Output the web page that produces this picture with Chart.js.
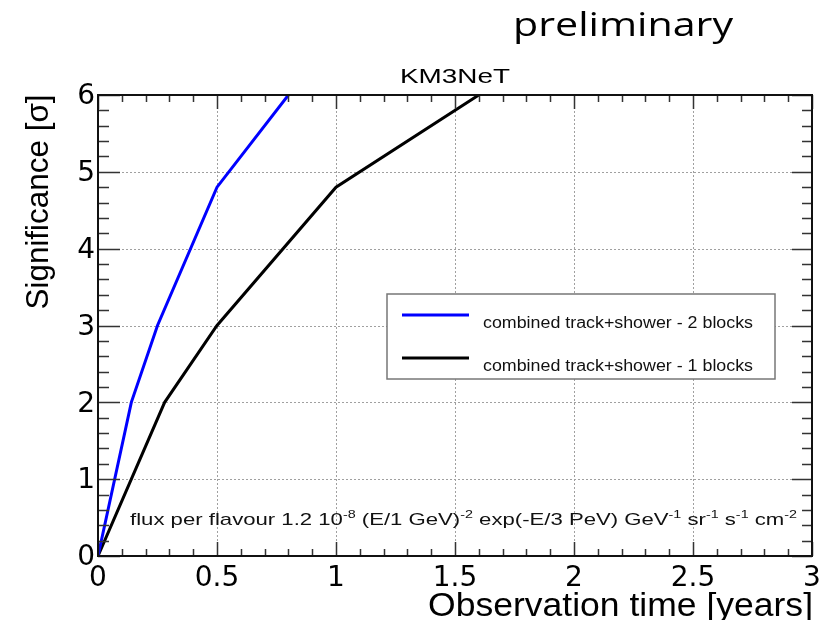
<!DOCTYPE html>
<html>
<head>
<meta charset="utf-8">
<script src="https://cdn.jsdelivr.net/npm/chart.js@4.4.1/dist/chart.umd.min.js"></script>
<style>
  html, body { margin: 0; padding: 0; background: #ffffff; }
  #wrap { width: 832px; height: 620px; }
</style>
</head>
<body>
<div id="wrap"><canvas id="c" width="832" height="620"></canvas></div>
<script>
// ---- data ----
const seriesLabels = ['combined track+shower - 2 blocks', 'combined track+shower - 1 blocks'];
const time2Blocks = [0, 0.14, 0.25, 0.5, 0.8];
const sig2Blocks  = [0, 2.0, 3.0, 4.8, 6.0];
const time1Block  = [0, 0.28, 0.5, 1.0, 1.6];
const sig1Block   = [0, 2.0, 3.0, 4.8, 6.0];
const xTickValues = [0, 0.5, 1, 1.5, 2, 2.5, 3];
const yTickValues = [0, 1, 2, 3, 4, 5, 6];
const chartTitle = 'KM3NeT';
const topNote = 'preliminary';
const xTitle = 'Observation time [years]';
const yTitle = 'Significance [\u03C3]';
const fluxNote = [
  ['flux per flavour 1.2 10', false], ['-8', true], [' (E/1 GeV)', false], ['-2', true],
  [' exp(-E/3 PeV) GeV', false], ['-1', true], [' sr', false], ['-1', true],
  [' s', false], ['-1', true], [' cm', false], ['-2', true]
];

const toPts = (xs, ys) => xs.map((x, i) => ({ x: x, y: ys[i] }));

function fitText(ctx, txt, x, y, font, align, width) {
  ctx.save();
  ctx.font = font;
  const w = ctx.measureText(txt).width;
  const sx = width ? width / w : 1;
  ctx.translate(x, y);
  ctx.scale(sx, 1);
  ctx.textAlign = align;
  ctx.textBaseline = 'alphabetic';
  ctx.fillText(txt, 0, 0);
  ctx.restore();
}

const rootStyle = {
  id: 'rootStyle',
  beforeDatasetsDraw(chart) {
    const ctx = chart.ctx, a = chart.chartArea;
    const xs = chart.scales.x, ys = chart.scales.y;
    ctx.save();
    ctx.strokeStyle = '#a0a0a0';
    ctx.lineWidth = 1;
    ctx.setLineDash([2, 2]);
    xTickValues.forEach(v => {
      if (v <= xs.min || v >= xs.max) return;
      const px = Math.round(xs.getPixelForValue(v)) + 0.5;
      ctx.beginPath(); ctx.moveTo(px, a.top); ctx.lineTo(px, a.bottom); ctx.stroke();
    });
    yTickValues.forEach(v => {
      if (v <= ys.min || v >= ys.max) return;
      const py = Math.round(ys.getPixelForValue(v)) + 0.5;
      ctx.beginPath(); ctx.moveTo(a.left, py); ctx.lineTo(a.right, py); ctx.stroke();
    });
    ctx.restore();
  },
  afterDatasetsDraw(chart) {
    const ctx = chart.ctx, a = chart.chartArea;
    const xs = chart.scales.x, ys = chart.scales.y;
    ctx.save();
    // ticks on all four sides (inward)
    ctx.strokeStyle = '#333';
    ctx.lineWidth = 1.5;
    for (let i = 0; i <= 30; i++) {
      const v = i / 10;
      const major = i % 5 === 0;
      const px = Math.round(xs.getPixelForValue(v)) + 0.5;
      const len = major ? 14 : 7;
      ctx.beginPath();
      ctx.moveTo(px, a.bottom); ctx.lineTo(px, a.bottom - len);
      ctx.moveTo(px, a.top); ctx.lineTo(px, a.top + len);
      ctx.stroke();
    }
    for (let i = 0; i <= 30; i++) {
      const v = i / 5;
      const major = i % 5 === 0;
      const py = Math.round(ys.getPixelForValue(v)) + 0.5;
      ctx.beginPath();
      ctx.moveTo(a.left, py); ctx.lineTo(a.left + (major ? 22 : 11), py);
      ctx.moveTo(a.right, py); ctx.lineTo(a.right - (major ? 20 : 10), py);
      ctx.stroke();
    }
    // frame
    ctx.strokeStyle = '#111';
    ctx.lineWidth = 2;
    ctx.strokeRect(a.left, a.top, a.right - a.left, a.bottom - a.top);

    // legend box
    const lx = 387, ly = 294, lw = 388, lh = 85;
    ctx.fillStyle = '#fff';
    ctx.fillRect(lx, ly, lw, lh);
    ctx.strokeStyle = '#777';
    ctx.lineWidth = 1.5;
    ctx.strokeRect(lx, ly, lw, lh);
    const rows = [315, 358];
    chart.data.datasets.forEach((ds, i) => {
      ctx.strokeStyle = ds.borderColor;
      ctx.lineWidth = 3;
      ctx.beginPath(); ctx.moveTo(402, rows[i]); ctx.lineTo(469, rows[i]); ctx.stroke();
      ctx.fillStyle = '#111';
      fitText(ctx, ds.label, 483, rows[i] + 13, '16px "Liberation Sans", Arial, sans-serif', 'left', 270);
    });

    // flux note with superscripts
    const base = '17px "Liberation Sans", Arial, sans-serif';
    const sup = '11px "Liberation Sans", Arial, sans-serif';
    let total = 0;
    fluxNote.forEach(([t, s]) => { ctx.font = s ? sup : base; total += ctx.measureText(t).width; });
    const sx = 667 / total;
    ctx.save();
    ctx.translate(130, 525);
    ctx.scale(sx, 1);
    ctx.fillStyle = '#111';
    ctx.textBaseline = 'alphabetic';
    ctx.textAlign = 'left';
    let cx = 0;
    fluxNote.forEach(([t, s]) => {
      ctx.font = s ? sup : base;
      ctx.fillText(t, cx, s ? -7 : 0);
      cx += ctx.measureText(t).width;
    });
    ctx.restore();

    // titles
    ctx.fillStyle = '#000';
    fitText(ctx, chartTitle, 455, 83, '21px "Liberation Sans", Arial, sans-serif', 'center', 110);
    fitText(ctx, topNote, 513, 36, '33px "Open Sans", Lato, sans-serif', 'left', 220);
    fitText(ctx, xTitle, 813, 616, '33px "Liberation Sans", Arial, sans-serif', 'right', 385);
    ctx.save();
    ctx.translate(48, 202);
    ctx.rotate(-Math.PI / 2);
    fitText(ctx, yTitle, 0, 0, '32px "Liberation Sans", Arial, sans-serif', 'center', 215);
    ctx.restore();
    ctx.restore();
  }
};

const tickFont = { family: '"DejaVu Sans", sans-serif', size: 28 };

new Chart(document.getElementById('c'), {
  type: 'scatter',
  data: {
    datasets: [
      { label: seriesLabels[0], data: toPts(time2Blocks, sig2Blocks), showLine: true,
        borderColor: '#0000ff', borderWidth: 3, pointRadius: 0, tension: 0, fill: false },
      { label: seriesLabels[1], data: toPts(time1Block, sig1Block), showLine: true,
        borderColor: '#000000', borderWidth: 3, pointRadius: 0, tension: 0, fill: false }
    ]
  },
  options: {
    responsive: false,
    animation: false,
    devicePixelRatio: 1,
    layout: { padding: { left: 0, top: 95, right: 20, bottom: 0 } },
    plugins: { legend: { display: false }, tooltip: { enabled: false }, title: { display: false } },
    scales: {
      x: {
        type: 'linear', min: 0, max: 3,
        afterBuildTicks: s => { s.ticks = xTickValues.map(v => ({ value: v })); },
        ticks: { font: tickFont, color: '#000', padding: 6, maxRotation: 0, autoSkip: false,
                 callback: v => String(v) },
        grid: { display: false, drawTicks: false },
        border: { display: false },
        afterFit: s => { s.height = 64; }
      },
      y: {
        type: 'linear', min: 0, max: 6,
        afterBuildTicks: s => { s.ticks = yTickValues.map(v => ({ value: v })); },
        ticks: { font: tickFont, color: '#000', padding: 3, labelOffset: 2, autoSkip: false,
                 callback: v => String(v) },
        grid: { display: false, drawTicks: false },
        border: { display: false },
        afterFit: s => { s.width = 98; }
      }
    }
  },
  plugins: [rootStyle]
});
</script>
</body>
</html>
